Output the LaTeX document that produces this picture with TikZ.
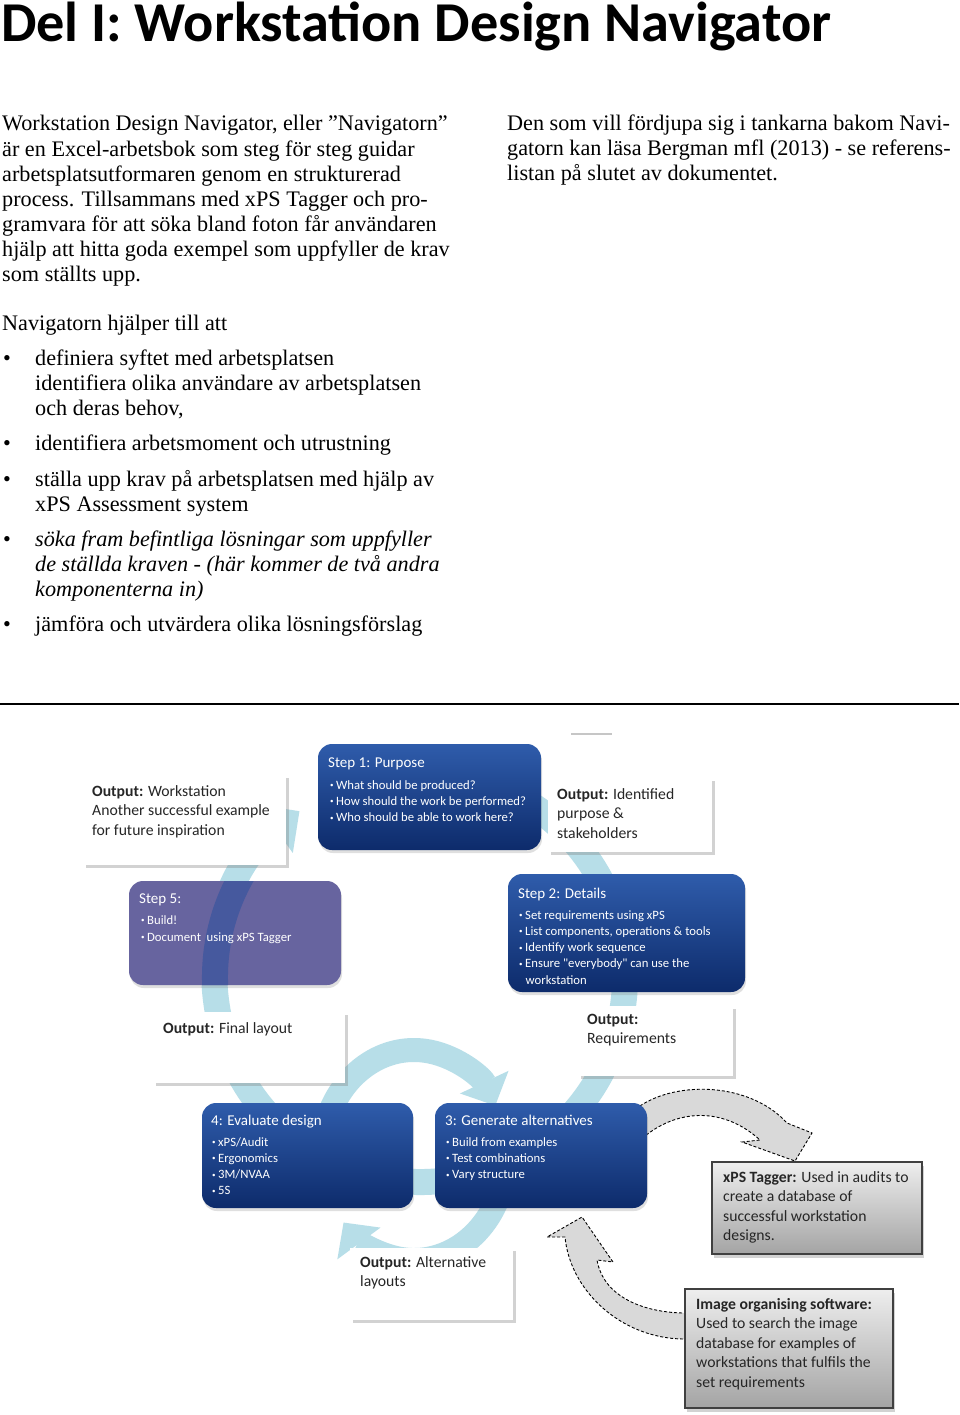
\documentclass[tikz,border=0pt]{standalone}
\usepackage{fontspec}
\setmainfont{Liberation Serif}
\newfontfamily\calibrifont{Carlito}
\usetikzlibrary{arrows.meta,shadows}
\definecolor{arcBlue}{HTML}{B7DEE8}
\definecolor{arcThrough}{HTML}{46599E}
\definecolor{stepBlueTop}{HTML}{2F5CAB}
\definecolor{stepBlueBot}{HTML}{0D2B6B}
\definecolor{stepPurple}{HTML}{67649F}
\definecolor{toolGrayTop}{HTML}{EEEEEE}
\definecolor{toolGrayBot}{HTML}{A4A4A4}
\definecolor{toolBorder}{HTML}{404040}
\definecolor{linkGray}{HTML}{D9D9D9}
\newcommand{\sbul}{\raisebox{1.6pt}{\fontsize{7}{7}\selectfont\textbullet}\hspace{2.5pt}}
\tikzset{
  bodytext/.style={font=\fontsize{22.2}{25}\selectfont, anchor=base west,
                   inner sep=0pt, align=left},
  stepbox/.style={rounded corners=14pt, top color=stepBlueTop,
                  bottom color=stepBlueBot, inner sep=0pt,
                  drop shadow={shadow xshift=1pt, shadow yshift=-3pt, opacity=0.25}},
  buildbox/.style={stepbox, top color=stepPurple, bottom color=stepPurple},
  outbox/.style={fill=white, inner sep=0pt,
                 drop shadow={shadow xshift=2.5pt, shadow yshift=-3pt, opacity=0.35}},
  toolbox/.style={draw=toolBorder, line width=1.4pt, top color=toolGrayTop,
                  bottom color=toolGrayBot, inner sep=0pt,
                  drop shadow={shadow xshift=2pt, shadow yshift=-4pt, opacity=0.35}},
  steptitle/.style={font=\calibrifont\fontsize{15}{18}\selectfont, text=white,
                    anchor=base west, inner sep=0pt},
  steplist/.style={font=\calibrifont\fontsize{12.7}{16.3}\selectfont, text=white,
                   anchor=base west, inner sep=0pt, align=left},
  outtext/.style={font=\calibrifont\fontsize{15.7}{19.5}\selectfont, text=black!85,
                  anchor=base west, inner sep=0pt, align=left},
  bigarc/.style={arcBlue, line width=26pt, -{Triangle[length=30pt,width=58pt]}},
  looparc/.style={arcBlue, line width=24pt, -{Triangle[length=26pt,width=52pt]}},
  linkarrow/.style={fill=linkGray, draw=black, line width=0.9pt,
                    dash pattern=on 3pt off 2pt},
}
\begin{document}
\begin{tikzpicture}[x=1pt, y=-1pt]
\fill[white] (0,0) rectangle (960,1415);
\useasboundingbox (0,0) rectangle (960,1415);
%% Title and text (multi-line nodes sit on their last baseline)
\node[anchor=base west, inner sep=0pt,
      font=\calibrifont\bfseries\fontsize{56.3}{60}\selectfont] (title) at (1,42)
  {Del I: Workstation Design Navigator};
\node[bodytext] (introleft) at (2,281) {Workstation Design Navigator, eller ”Navigatorn”\\
  är en Excel-arbetsbok som steg för steg guidar\\
  arbetsplatsutformaren genom en strukturerad\\
  process. Tillsammans med xPS Tagger och pro-\\
  gramvara för att söka bland foton får användaren\\
  hjälp att hitta goda exempel som uppfyller de krav\\
  som ställts upp.};
\node[bodytext] (introright) at (507,181) {Den som vill fördjupa sig i tankarna bakom Navi-\\
  gatorn kan läsa Bergman mfl (2013) - se referens-\\
  listan på slutet av dokumentet.};
\node[bodytext] (helps) at (2,330) {Navigatorn hjälper till att};
\foreach \y/\n in {365/1,450/2,486/3,546/4,631/5}
  \node[bodytext] (dot\n) at (3,\y) {•};
\node[bodytext] (item1) at (35,415) {definiera syftet med arbetsplatsen\\
  identifiera olika användare av arbetsplatsen\\och deras behov,};
\node[bodytext] (item2) at (35,450) {identifiera arbetsmoment och utrustning};
\node[bodytext] (item3) at (35,511) {ställa upp krav på arbetsplatsen med hjälp av\\
  xPS Assessment system};
\node[bodytext, font=\fontsize{22.2}{25}\selectfont\itshape] (item4) at (35,596)
  {söka fram befintliga lösningar som uppfyller\\
  de ställda kraven - (här kommer de två andra\\komponenterna in)};
\node[bodytext] (item5) at (35,631) {jämföra och utvärdera olika lösningsförslag};
\draw[line width=2.5pt] (0,704) -- (959,704);
\draw[gray!45, line width=2pt] (571,734) -- (612,734);
%% Cycle arrows
\coordinate (cycleC) at (420,977);
\coordinate (loopC) at (414,1155);
\draw[bigarc] (cycleC) ++(245:205) arc[start angle=245, end angle=594, radius=205];
\draw[looparc] (loopC) ++(190:92 and 105)
  arc[start angle=190, end angle=332, x radius=92, y radius=105];
\draw[looparc] (loopC) ++(10:92 and 105)
  arc[start angle=10, end angle=140, x radius=92, y radius=105];
%% Tool arrows
\draw[linkarrow] (632,1112) .. controls (668,1080) and (748,1080) .. (787,1123)
  -- (812,1133) -- (795,1161) -- (742,1142) -- (760,1140)
  .. controls (725,1108) and (680,1108) .. (645,1136) -- cycle;
\draw[linkarrow] (692,1313) -- (683,1313) .. controls (640,1312) and (603,1295) .. (597,1260)
  -- (613,1262) -- (582,1217) -- (547,1237) -- (565,1237)
  .. controls (570,1290) and (620,1338) .. (683,1339) -- (692,1339) -- cycle;
%% Boxes
\node[stepbox, minimum width=223, minimum height=106] (purpose) at (429.5,797) {};
\node[outbox, minimum width=203, minimum height=90] (outwork) at (184.5,820) {};
\node[outbox, minimum width=164, minimum height=74] (outident) at (630,815) {};
\node[buildbox, minimum width=212, minimum height=104] (build) at (235,933) {};
\begin{scope}
  \clip[rounded corners=14pt] (129,881) rectangle (341,985);
  \draw[arcThrough, line width=26pt] (cycleC) ++(150:205) arc[start angle=150, end angle=240, radius=205];
\end{scope}
\node[stepbox, minimum width=237, minimum height=118] (details) at (626.5,933) {};
\node[outbox, minimum width=192, minimum height=71] (outfinal) at (249,1047.5) {};
\node[outbox, minimum width=155, minimum height=70] (outreq) at (655.5,1041) {};
\node[stepbox, minimum width=211, minimum height=105] (evaluate) at (307.5,1155.5) {};
\node[stepbox, minimum width=212, minimum height=105] (generate) at (541,1155.5) {};
\node[outbox, minimum width=163, minimum height=72] (outalt) at (431.5,1284) {};
\node[toolbox, minimum width=210, minimum height=92] (tagger) at (817,1208) {};
\node[toolbox, minimum width=208, minimum height=119] (imgsoft) at (789,1348.5) {};
%% Box texts
\node[steptitle] (purposeT) at (328,767) {Step 1: Purpose};
\node[steplist] (purposeL) at (330,821.6) {\sbul What should be produced?\\
  \sbul How should the work be performed?\\\sbul Who should be able to work here?};
\node[outtext] (outworkT) at (92,835) {\textbf{Output:} Workstation\\
  Another successful example\\for future inspiration};
\node[outtext] (outidentT) at (557,838) {\textbf{Output:} Identified\\purpose \&\\stakeholders};
\node[steptitle] (buildT) at (139,903) {Step 5:};
\node[steplist, font=\calibrifont\fontsize{12.7}{17}\selectfont] (buildL) at (141,941)
  {\sbul Build!\\\sbul Document\ \ using xPS Tagger};
\node[steptitle] (detailsT) at (518,898) {Step 2: Details};
\node[steplist] (detailsL) at (519,984.2) {\sbul Set requirements using xPS\\
  \sbul List components, operations \& tools\\\sbul Identify work sequence\\
  \sbul Ensure "everybody" can use the\\\hspace{6.5pt}workstation};
\node[outtext] (outfinalT) at (163,1033) {\textbf{Output:} Final layout};
\node[outtext] (outreqT) at (587,1043.5) {\textbf{Output:}\\Requirements};
\node[steptitle] (evaluateT) at (211,1125) {4: Evaluate design};
\node[steplist] (evaluateL) at (212,1194.9) {\sbul xPS/Audit\\\sbul Ergonomics\\
  \sbul 3M/NVAA\\\sbul 5S};
\node[steptitle] (generateT) at (445,1125) {3: Generate alternatives};
\node[steplist] (generateL) at (446,1178.6) {\sbul Build from examples\\
  \sbul Test combinations\\\sbul Vary structure};
\node[outtext] (outaltT) at (360,1286.5) {\textbf{Output:} Alternative\\layouts};
\node[outtext] (taggerT) at (723,1240.5) {\textbf{xPS Tagger:} Used in audits to\\
  create a database of\\successful workstation\\designs.};
\node[outtext] (imgsoftT) at (696,1387) {\textbf{Image organising software:}\\
  Used to search the image\\database for examples of\\
  workstations that fulfils the\\set requirements};
\end{tikzpicture}
\end{document}
